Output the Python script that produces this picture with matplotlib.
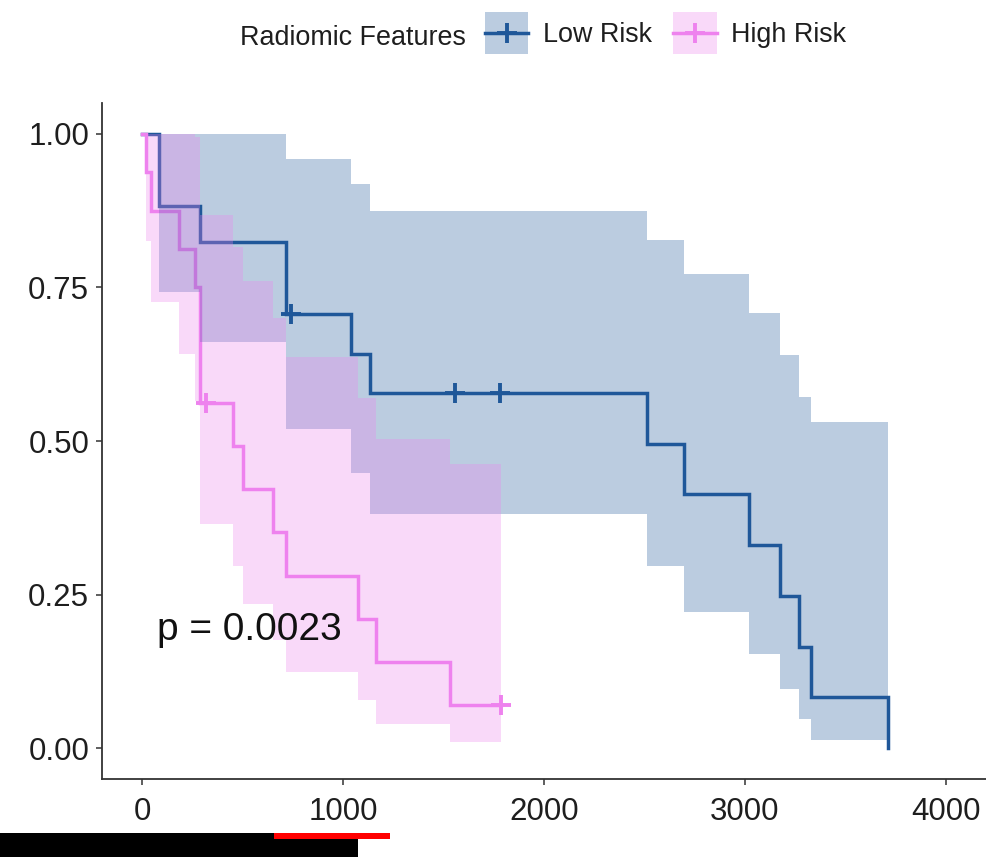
import numpy as np
import matplotlib
matplotlib.use("Agg")
import matplotlib.pyplot as plt
from matplotlib.patches import Rectangle
from matplotlib.lines import Line2D

plt.rcParams['font.family'] = ['Liberation Sans', 'DejaVu Sans']

# ---- data -------------------------------------------------------------
legend_title = "Radiomic Features"
group_labels = ["Low Risk", "High Risk"]
group_colors = ["#1F5799", "#EE82EE"]

# Kaplan-Meier step values (time in days, survival probability, 95% CI)
low_time = [0, 85, 290, 716, 1040, 1135, 2511, 2698, 3022, 3175, 3267, 3329, 3712]
low_surv = [1.0, 0.882, 0.824, 0.706, 0.642, 0.578, 0.495, 0.413, 0.330, 0.248, 0.165, 0.083, 0.0]
low_upper = [1.0, 1.0, 1.0, 0.959, 0.919, 0.874, 0.827, 0.771, 0.708, 0.640, 0.572, 0.531, np.nan]
low_lower = [1.0, 0.742, 0.661, 0.519, 0.448, 0.382, 0.296, 0.221, 0.154, 0.096, 0.048, 0.013, np.nan]
low_censor = [741, 1555, 1780]

high_time = [0, 18, 43, 181, 262, 290, 450, 503, 653, 716, 1073, 1165, 1530]
high_surv = [1.0, 0.938, 0.875, 0.812, 0.750, 0.562, 0.492, 0.422, 0.352, 0.281, 0.211, 0.141, 0.070]
high_upper = [1.0, 1.0, 1.0, 1.0, 0.995, 0.867, 0.816, 0.760, 0.700, 0.636, 0.570, 0.504, 0.462]
high_lower = [1.0, 0.826, 0.727, 0.642, 0.565, 0.365, 0.297, 0.234, 0.177, 0.124, 0.078, 0.039, 0.011]
high_censor = [317, 1788]

x_ticks = [0, 1000, 2000, 3000, 4000]
y_ticks = [0.0, 0.25, 0.50, 0.75, 1.00]
y_tick_labels = ["0.00", "0.25", "0.50", "0.75", "1.00"]
p_label = "p = 0.0023"

groups = [
    (low_time, low_surv, low_upper, low_lower, low_censor),
    (high_time, high_surv, high_upper, high_lower, high_censor),
]

# ---- figure -----------------------------------------------------------
fig = plt.figure(figsize=(9.86, 8.57), dpi=100)
ax = fig.add_axes([0.1035, 0.0910, 0.8965, 0.7888])

text_color = "#1E1E1E"
axis_color = "#333333"
lw = 2.5

# survival curves
for (t, s, up, lo, cens), color in zip(groups, group_colors):
    t = np.asarray(t, float)
    s = np.asarray(s, float)
    end = max(t[-1], max(cens))
    tx = np.append(t, end) if end > t[-1] else t
    sy = np.append(s, s[-1]) if end > t[-1] else s
    ax.step(tx, sy, where="post", color=color, lw=lw, zorder=2,
            solid_joinstyle="miter")

# confidence ribbons (drawn over the curves)
for i, ((t, s, up, lo, cens), color) in enumerate(zip(groups, group_colors)):
    t = np.asarray(t, float)
    up = np.asarray(up, float)
    lo = np.asarray(lo, float)
    valid = ~np.isnan(up)
    end = max(t[-1], max(cens))
    bx = np.append(t[valid], end)
    bu = np.append(up[valid], up[valid][-1])
    bl = np.append(lo[valid], lo[valid][-1])
    ax.fill_between(bx, bl, bu, step="post", color=color, alpha=0.3,
                    lw=0, zorder=3 + i * 0.1)

# censor marks
for (t, s, up, lo, cens), color in zip(groups, group_colors):
    t = np.asarray(t, float)
    s = np.asarray(s, float)
    idx = np.searchsorted(t, cens, side="right") - 1
    ax.plot(cens, s[idx], ls="none", marker="+", ms=15, mew=2.8,
            color=color, zorder=4)

# p-value
ax.text(75, 0.176, p_label, fontsize=28, color="#111111",
        ha="left", va="baseline", zorder=5)

# axes styling (classic theme)
ax.set_xlim(-200, 4200)
ax.set_ylim(-0.05, 1.05)
ax.set_xticks(x_ticks)
ax.set_xticklabels([str(v) for v in x_ticks])
ax.set_yticks(y_ticks)
ax.set_yticklabels(y_tick_labels)
for side in ("top", "right"):
    ax.spines[side].set_visible(False)
for side in ("left", "bottom"):
    ax.spines[side].set_color(axis_color)
    ax.spines[side].set_linewidth(1.3)
ax.tick_params(axis="both", length=4.3, width=1.1, color=axis_color,
               labelsize=22.5, labelcolor=text_color)
ax.tick_params(axis="x", pad=9)
ax.tick_params(axis="y", pad=5)


class RibbonKeyHandler:
    """Legend key: translucent ribbon square with the curve and a '+' mark."""

    def legend_artist(self, legend, orig_handle, fontsize, handlebox):
        x0, y0 = -handlebox.xdescent, -handlebox.ydescent
        w, h = handlebox.width, handlebox.height
        color = orig_handle.get_color()
        rect = Rectangle((x0, y0), w, h, facecolor=color, alpha=0.3,
                         edgecolor="none", transform=handlebox.get_transform())
        yc = y0 + h / 2
        line = Line2D([x0, x0 + w], [yc, yc], color=color, lw=lw,
                      transform=handlebox.get_transform())
        mark = Line2D([x0 + w / 2], [yc], color=color, ls="none", marker="+",
                      ms=14, mew=2.8, transform=handlebox.get_transform())
        handlebox.add_artist(rect)
        handlebox.add_artist(line)
        handlebox.add_artist(mark)
        return rect


# legend across the top
handles = [Line2D([], [], color=c) for c in group_colors]
fig.legend(handles, group_labels,
           handler_map={Line2D: RibbonKeyHandler()},
           loc="center left", bbox_to_anchor=(485 / 986, 1 - 33 / 857),
           ncol=2, frameon=False, fontsize=19.4, labelcolor=text_color,
           handlelength=1.6, handleheight=2.05, handletextpad=0.55,
           columnspacing=0.8, borderpad=0, borderaxespad=0)
fig.text(240 / 986, 1 - 45 / 857, legend_title, ha="left", va="baseline",
         fontsize=19.4, color=text_color)

# footer strip
fig.add_artist(Rectangle((0, 0), 358 / 986, 24 / 857, transform=fig.transFigure,
                         facecolor="black", edgecolor="none"))
fig.add_artist(Rectangle((274 / 986, 1 - 839 / 857), 116 / 986, 6 / 857,
                         transform=fig.transFigure, facecolor="#FF0000",
                         edgecolor="none"))

fig.savefig("out.png", dpi=100)
